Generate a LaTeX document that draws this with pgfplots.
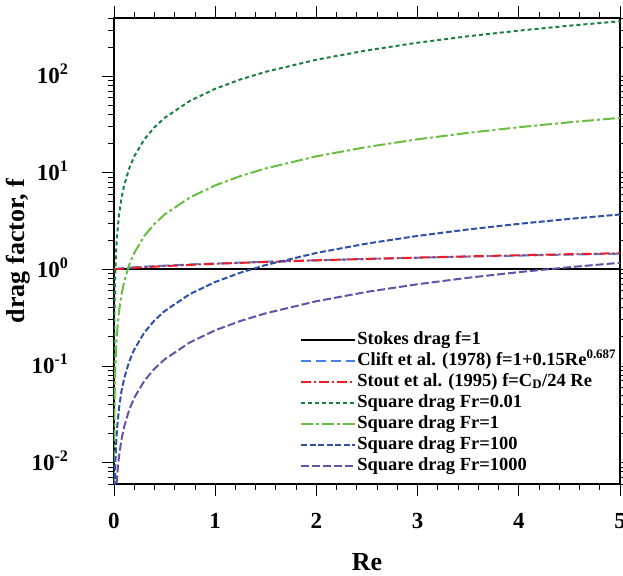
\documentclass[border=0pt]{standalone}
\usepackage{fontspec}
\setmainfont{Liberation Serif}
\usepackage{pgfplots}
\pgfplotsset{compat=1.18}
\definecolor{cliftblue}{RGB}{66,133,224}
\definecolor{stoutred}{RGB}{236,28,36}
\definecolor{drkgreen}{RGB}{26,128,64}
\definecolor{ltgreen}{RGB}{104,190,64}
\definecolor{drkblue}{RGB}{48,80,168}
\definecolor{purp}{RGB}{104,80,168}
\begin{document}
\begin{tikzpicture}
\begin{axis}[
  scale only axis, width=506pt, height=466pt,
  ymode=log, xmin=0, xmax=5, ymin=0.006, ymax=400,
  axis line style={line width=1.3pt, black},
  tick align=outside, tick pos=both,
  xticklabel pos=bottom, yticklabel pos=left,
  major tick length=12pt, minor tick length=6pt,
  every tick/.style={black, line width=0.9pt},
  xtick={0,1,2,3,4,5}, xticklabels={0,1,2,3,4,5},
  minor x tick num=4,
  ytick={0.01,0.1,1,10,100},
  yticklabels={10\textsuperscript{-2},10\textsuperscript{-1},10\textsuperscript{0},10\textsuperscript{1},10\textsuperscript{2}},
  minor ytick={0.006,0.007,0.008,0.009,0.02,0.03,0.04,0.05,0.06,0.07,0.08,0.09,0.2,0.3,0.4,0.5,0.6,0.7,0.8,0.9,2,3,4,5,6,7,8,9,20,30,40,50,60,70,80,90,200,300,400},
  ticklabel style={font=\fontsize{23}{25}\selectfont\bfseries},
  xticklabel style={yshift=-14pt},
  yticklabel style={xshift=-30pt, yshift=2pt},
  xlabel={Re}, ylabel={drag factor, f},
  label style={font=\fontsize{26}{28}\selectfont\bfseries},
  xlabel style={at={(axis description cs:0.5,0)}, anchor=center, yshift=-78pt},
  ylabel style={at={(axis description cs:0,0.5)}, anchor=center, yshift=96pt},
  legend style={draw=none, fill=none, at={(0.362,0.337)}, anchor=north west,
    font=\fontsize{18.5}{20}\selectfont\bfseries, row sep=0pt,
    nodes={inner sep=1pt, text height=14pt, text depth=5pt}},
  legend cell align=left,
  legend image code/.code={\draw[mark repeat=2,mark phase=2,#1] plot coordinates {(0pt,0pt) (27pt,0pt) (54pt,0pt)};},
]
\addplot[color=black, line width=2pt] coordinates {(0,1) (5,1)};
\addlegendentry{Stokes drag f=1}
\addplot[color=cliftblue, line width=2pt, dash pattern=on 10pt off 5pt] coordinates {
(0,1) (0.01,1.0063) (0.05,1.0192) (0.1,1.0308) (0.2,1.0497) (0.3,1.0656) (0.5,1.0932) (0.75,1.1231) (1,1.15) (1.5,1.1982) (2,1.2415) (2.5,1.2815) (3,1.319) (3.5,1.3547) (4,1.3888) (4.5,1.4216) (5,1.4532)};
\addlegendentry{Clift et al. (1978) f=1+0.15Re\textsuperscript{0.687}}
\addplot[color=stoutred, line width=2pt, dash pattern=on 10pt off 3pt on 2pt off 3pt] coordinates {
(0,1) (0.01,1.0024) (0.05,1.011) (0.1,1.0207) (0.2,1.0379) (0.3,1.0535) (0.5,1.0816) (0.75,1.113) (1,1.1417) (1.5,1.1936) (2,1.2404) (2.5,1.2838) (3,1.3245) (3.5,1.3631) (4,1.4) (4.5,1.4354) (5,1.4696)};
\addlegendentry{Stout et al. (1995) f=C\textsubscript{D}/24 Re}
\addplot[color=drkgreen, line width=2pt, dash pattern=on 4pt off 3pt] coordinates {
(0.00005,0.0037) (0.0001,0.0074) (0.0002,0.0148) (0.0005,0.037) (0.001,0.074) (0.002,0.148) (0.005,0.37) (0.01,0.74) (0.02,1.48) (0.03,2.22) (0.05,3.7) (0.075,5.55) (0.1,7.4) (0.15,11.1) (0.2,14.8) (0.3,22.2) (0.4,29.6) (0.5,37) (0.75,55.5) (1,74) (1.25,92.5) (1.5,111) (2,148) (2.5,185) (3,222) (3.5,259) (4,296) (4.5,333) (5,370)};
\addlegendentry{Square drag Fr=0.01}
\addplot[color=ltgreen, line width=2pt, dash pattern=on 12pt off 3pt on 3pt off 3pt] coordinates {
(0.0005,0.0037) (0.001,0.0074) (0.002,0.0148) (0.005,0.037) (0.01,0.074) (0.02,0.148) (0.03,0.222) (0.05,0.37) (0.075,0.555) (0.1,0.74) (0.15,1.11) (0.2,1.48) (0.3,2.22) (0.4,2.96) (0.5,3.7) (0.75,5.55) (1,7.4) (1.25,9.25) (1.5,11.1) (2,14.8) (2.5,18.5) (3,22.2) (3.5,25.9) (4,29.6) (4.5,33.3) (5,37)};
\addlegendentry{Square drag Fr=1}
\addplot[color=drkblue, line width=2pt, dash pattern=on 6pt off 2.5pt] coordinates {
(0.005,0.0037) (0.0075,0.00555) (0.01,0.0074) (0.015,0.0111) (0.02,0.0148) (0.03,0.0222) (0.05,0.037) (0.075,0.0555) (0.1,0.074) (0.15,0.111) (0.2,0.148) (0.3,0.222) (0.4,0.296) (0.5,0.37) (0.75,0.555) (1,0.74) (1.25,0.925) (1.5,1.11) (2,1.48) (2.5,1.85) (3,2.22) (3.5,2.59) (4,2.96) (4.5,3.33) (5,3.7)};
\addlegendentry{Square drag Fr=100}
\addplot[color=purp, line width=2pt, dash pattern=on 8pt off 3pt] coordinates {
(0.02,0.00468) (0.025,0.00585) (0.03,0.00702) (0.04,0.00936) (0.05,0.0117) (0.075,0.01755) (0.1,0.0234) (0.15,0.0351) (0.2,0.0468) (0.3,0.0702) (0.4,0.0936) (0.5,0.117) (0.75,0.1755) (1,0.234) (1.25,0.2925) (1.5,0.351) (2,0.468) (2.5,0.585) (3,0.702) (3.5,0.819) (4,0.936) (4.5,1.053) (5,1.17)};
\addlegendentry{Square drag Fr=1000}
\end{axis}
\pgfresetboundingbox
\path[use as bounding box] ([shift={(-114pt,-91pt)}]current axis.south west) rectangle ([shift={(3pt,18pt)}]current axis.north east);
\end{tikzpicture}
\end{document}
